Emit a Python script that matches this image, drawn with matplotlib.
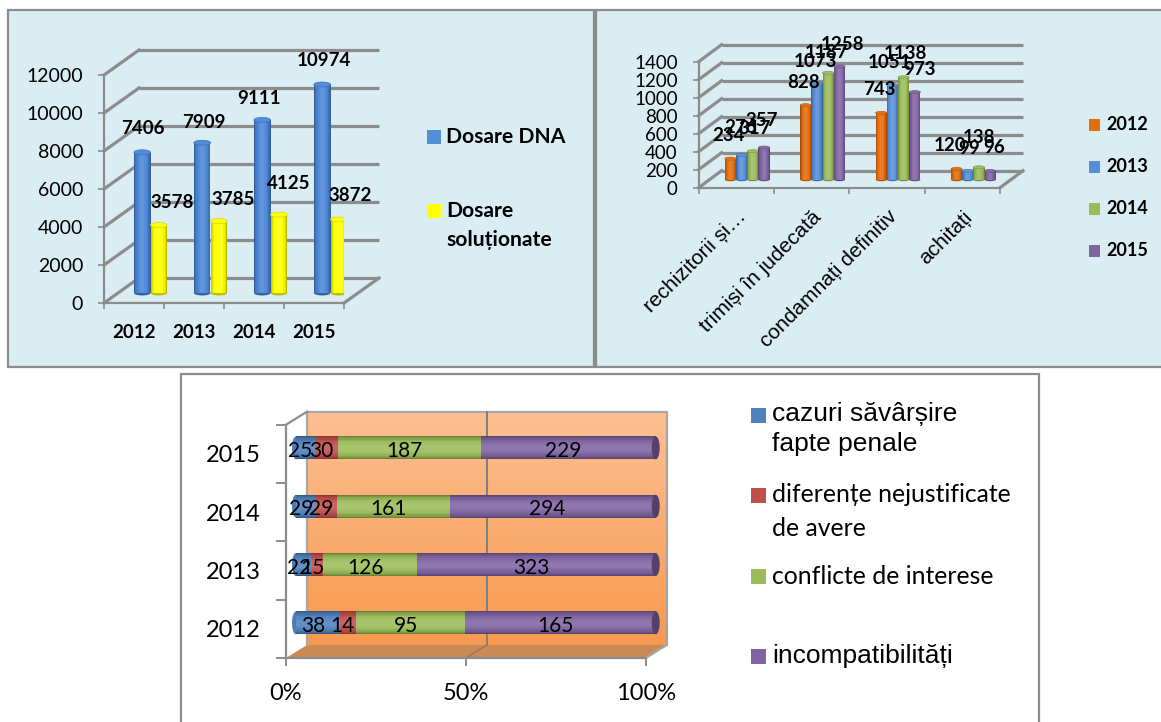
import numpy as np
import matplotlib
matplotlib.use('Agg')
import matplotlib.pyplot as plt
from matplotlib.patches import Rectangle, Ellipse, Polygon
from matplotlib.colors import to_rgb

W, H = 1161, 722

# chart 1
years = ['2012', '2013', '2014', '2015']
dosare_dna = [7406, 7909, 9111, 10974]
dosare_sol = [3578, 3785, 4125, 3872]

# chart 2
categories = ['rechizitorii și…', 'trimiși în judecată', 'condamnați definitiv', 'achitați']
inculpati_2012 = [234, 828, 743, 120]
inculpati_2013 = [276, 1073, 1051, 99]
inculpati_2014 = [317, 1187, 1138, 138]
inculpati_2015 = [357, 1258, 973, 96]

# chart 3, rows go 2012 -> 2015
cazuri = [38, 22, 29, 25]
diferente = [14, 15, 29, 30]
conflicte = [95, 126, 161, 187]
incompat = [165, 323, 294, 229]

# hand placed label offsets in pixels (the original labels were dragged around)
off_dna = [(1, 24), (2, 20), (-3, 21), (2, 24)]
off_sol = [(13, 23), (14, 22), (10, 31), (11, 24)]
off_right = [[(-2, 23), (-2, 23), (-2, 23), (-6, 23)],
             [(-1, 27), (-2, 22), (-3, 23), (1, 22)],
             [(2, 23), (-2, 20), (2, 24), (0, 30)],
             [(-2, 27), (3, 22), (5, 23), (4, 24)]]

GREY = '#8c8c8c'
PANEL = '#daedf3'
BODY = 'Lato'
ARIAL = 'Liberation Sans'

# cylinder look: stacked narrower bars, dark at the rim, light in the middle
SHADES = [(1.0, -0.30), (0.92, -0.20), (0.82, -0.12), (0.70, -0.05),
          (0.56, 0.02), (0.42, 0.07), (0.26, 0.12)]

fig = plt.figure(figsize=(W / 100, H / 100), dpi=100, facecolor='white')


def box(x0, y0, x1, y1, face):
    fig.add_artist(Rectangle((x0 / W, 1 - y1 / H), (x1 - x0) / W, (y1 - y0) / H,
                             transform=fig.transFigure, fc=face, ec=GREY, lw=1.6, zorder=-1))


def make_axes(x0, x1, ytop, ybot):
    ax = fig.add_axes([x0 / W, 1 - ybot / H, (x1 - x0) / W, (ybot - ytop) / H])
    ax.patch.set_alpha(0)
    for s in ['top', 'right']:
        ax.spines[s].set_visible(False)
    for s in ['left', 'bottom']:
        ax.spines[s].set_color(GREY)
        ax.spines[s].set_linewidth(1.6)
    return ax


def mix(c, amount):
    # amount > 0 towards white, < 0 towards black
    c = np.array(to_rgb(c))
    if amount > 0:
        return tuple(c + (1 - c) * amount)
    return tuple(c * (1 + amount))


def vcyl(ax, x, v, base, w, color, cap):
    ax.add_patch(Ellipse((x, base), w, cap, fc=mix(color, -0.25), ec='none', zorder=3))
    for frac, a in SHADES:
        ax.bar(x, v, w * frac, bottom=base, color=mix(color, a), zorder=3)
    ax.add_patch(Ellipse((x, base + v), w, cap, fc=mix(color, 0.05), ec=mix(color, -0.15),
                         lw=0.5, zorder=3))


def legend_item(x, y, size, color, lines, **kw):
    fig.add_artist(Rectangle((x / W, 1 - (y + size / 2) / H), size / W, size / H,
                             transform=fig.transFigure, fc=color, ec='none'))
    for tx, ty, s in lines:
        fig.text(tx / W, 1 - ty / H, s, va='center', ha='left', color='black', **kw)


def walls(ax, xmin, xmax, ticks, dx, dy):
    for v in ticks:
        ax.plot([xmin + dx, xmax + dx], [v + dy, v + dy], color=GREY, lw=2.3,
                clip_on=False, zorder=1, solid_capstyle='butt')
        ax.plot([xmin, xmin + dx], [v, v + dy], color=GREY, lw=2.3, clip_on=False, zorder=1)
    ax.plot([xmax, xmax + dx], [0, dy], color=GREY, lw=2.3, clip_on=False, zorder=1)


box(8, 10, 594, 367, PANEL)
box(596, 10, 1175, 367, PANEL)
box(181, 374, 1039, 740, 'white')

# ---- chart 1: dosare
ax1 = make_axes(104, 344, 75, 303)
x1 = np.arange(4)
ax1.set_xlim(-0.5, 3.5)
ax1.set_ylim(0, 12000)
px_x = 60.0
px_y = 228 / 12000
yt1 = np.arange(0, 12001, 2000)
walls(ax1, -0.5, 3.5, yt1, 35 / px_x, 25 / px_y)
bw = 16.6 / px_x
sx = 16.5 / px_x
sy = 10 / px_y
for i in range(4):
    vcyl(ax1, x1[i] + sx - bw / 2, dosare_dna[i], sy, bw, '#4a86d6', 5 / px_y)
    vcyl(ax1, x1[i] + sx + bw / 2, dosare_sol[i], sy, bw, '#ffff00', 5 / px_y)
    ax1.annotate(str(dosare_dna[i]), (x1[i] + sx - bw / 2, dosare_dna[i] + sy), xytext=off_dna[i],
                 textcoords='offset pixels', ha='center', va='center', fontsize=13.5,
                 fontweight='bold', family=BODY, zorder=6, annotation_clip=False)
    ax1.annotate(str(dosare_sol[i]), (x1[i] + sx + bw / 2, dosare_sol[i] + sy), xytext=off_sol[i],
                 textcoords='offset pixels', ha='center', va='center', fontsize=13.5,
                 fontweight='bold', family=BODY, zorder=6, annotation_clip=False)
ax1.set_yticks(yt1)
ax1.tick_params(axis='y', length=4, width=1.2, color=GREY, pad=11, labelsize=14)
ax1.set_xticks(x1, years)
ax1.set_xticks(np.arange(-0.5, 4), minor=True)
ax1.tick_params(axis='x', which='major', length=0, pad=15, labelsize=13.5)
ax1.tick_params(axis='x', which='minor', length=4, width=1.2, color=GREY)
for t in ax1.get_yticklabels():
    t.set_family(BODY)
for t in ax1.get_xticklabels():
    t.set_family(BODY)
    t.set_fontweight('bold')

legend_item(427, 137, 14, '#558ed5', [(446, 137, 'Dosare DNA')],
            fontsize=15.2, fontweight='bold', family=BODY)
legend_item(427, 211, 14, '#ffff00', [(446, 211, 'Dosare'), (446, 240, 'soluționate')],
            fontsize=15.2, fontweight='bold', family=BODY)

# ---- chart 2: inculpati
ax2 = make_axes(698.6, 1000, 61.7, 187.7)
ax2.set_xlim(-0.5, 3.5)
ax2.set_ylim(0, 1400)
px_x = (1000 - 698.6) / 4
px_y = 126 / 1400
yt2 = np.arange(0, 1401, 200)
walls(ax2, -0.5, 3.5, yt2, 23 / px_x, 17 / px_y)
series2 = [inculpati_2012, inculpati_2013, inculpati_2014, inculpati_2015]
colors2 = ['#e46c0a', '#558ed5', '#9bbb59', '#8064a2']
x2 = np.arange(4)
bw = 11.2 / px_x
sx = 11 / px_x
sy = 8 / px_y
for s, vals in enumerate(series2):
    for i in range(4):
        xb = x2[i] + sx + (s - 1.5) * bw
        vcyl(ax2, xb, vals[i], sy, bw, colors2[s], 3 / px_y)
        ax2.annotate(str(vals[i]), (xb, vals[i] + sy), xytext=off_right[s][i],
                     textcoords='offset pixels', ha='center', va='center', fontsize=13.5,
                     fontweight='bold', family=BODY, zorder=6, annotation_clip=False)
ax2.set_yticks(yt2)
ax2.tick_params(axis='y', length=4, width=1.2, color=GREY, pad=11, labelsize=13.5)
ax2.set_xticks(np.arange(-0.5, 4), minor=True)
ax2.tick_params(axis='x', which='minor', length=4, width=1.2, color=GREY)
ax2.set_xticks(x2, categories)
ax2.tick_params(axis='x', which='major', length=0, pad=14)
for t in ax2.get_yticklabels():
    t.set_family(BODY)
for t in ax2.get_xticklabels():
    t.set_family(ARIAL)
    t.set_fontsize(15)
    t.set_rotation(45)
    t.set_ha('right')
    t.set_rotation_mode('anchor')

for name, ty, c in zip(years, [125, 167, 209, 251], colors2):
    legend_item(1088.5, ty, 11.5, c, [(1106, ty, name)], fontsize=13, fontweight='bold', family=BODY)

# ---- chart 3: integritate
ax3 = make_axes(286, 645.7, 424.7, 658)
ax3.set_xlim(0, 100)
ax3.set_ylim(-0.5, 3.5)
px_x = 359.7 / 100
px_y = 233.3 / 4
dx = 21 / px_x
dy = 13 / px_y
grad = np.linspace(0, 1, 64).reshape(-1, 1, 1)
top_c = np.array(to_rgb('#fdbf92'))
bot_c = np.array(to_rgb('#f79a50'))
wall_img = top_c * (1 - grad) + bot_c * grad
ax3.imshow(wall_img, extent=[dx, 100 + dx, -0.5 + dy, 3.5 + dy], aspect='auto', origin='upper',
           zorder=0, clip_on=False)
ax3.set_xlim(0, 100)
ax3.set_ylim(-0.5, 3.5)
ax3.add_patch(Polygon([[0, -0.5], [100, -0.5], [100 + dx, -0.5 + dy], [dx, -0.5 + dy]],
                      fc='#c98a55', ec='none', zorder=0, clip_on=False))
edge = '#a6a6a6'
ax3.plot([dx, dx, 100 + dx, 100 + dx], [-0.5 + dy, 3.5 + dy, 3.5 + dy, -0.5 + dy], color=edge,
         lw=1.6, zorder=1, clip_on=False)
ax3.plot([0, dx], [3.5, 3.5 + dy], color=GREY, lw=1.6, zorder=1, clip_on=False)
ax3.plot([100, 100 + dx], [-0.5, -0.5 + dy], color=edge, lw=1.6, zorder=1, clip_on=False)
ax3.plot([50 + dx, 50 + dx], [-0.5 + dy, 3.5 + dy], color='#7f7f7f', lw=1.4, zorder=1, clip_on=False)
ax3.plot([50, 50 + dx], [-0.5, -0.5 + dy], color='#9a7a60', lw=1.2, zorder=1, clip_on=False)

series3 = [cazuri, diferente, conflicte, incompat]
colors3 = ['#4f81bd', '#c0504d', '#9bbb59', '#8064a2']
y3 = np.arange(4)
totals = np.sum(series3, axis=0)
sx = 10 / px_x
sy = 6 / px_y
bh = 23 / px_y
left = np.zeros(4) + sx
for c, vals in zip(colors3, series3):
    pct = np.array(vals) / totals * 100
    for i in range(4):
        if c == colors3[0]:
            ax3.add_patch(Ellipse((left[i], y3[i] + sy), 8 / px_x, bh, fc=mix(c, -0.05), ec='none',
                                  zorder=3, clip_on=False))
        for frac, a in SHADES:
            ax3.barh(y3[i] + sy, pct[i], bh * frac, left=left[i], color=mix(c, a), zorder=3,
                     clip_on=False)
        ax3.annotate(str(vals[i]), (left[i] + pct[i] / 2, y3[i] + sy), xytext=(-5, -3),
                     textcoords='offset pixels', ha='center', va='center', fontsize=15,
                     family=BODY, zorder=6, annotation_clip=False)
        if c == colors3[-1]:
            ax3.add_patch(Ellipse((left[i] + pct[i], y3[i] + sy), 8 / px_x, bh, fc=mix(c, -0.35),
                                  ec='none', zorder=4, clip_on=False))
    left = left + pct

ax3.set_yticks(y3, years)
ax3.set_yticks(np.arange(-0.5, 4), minor=True)
ax3.tick_params(axis='y', which='major', length=0, pad=18, labelsize=17)
ax3.tick_params(axis='y', which='minor', length=7, width=1.4, color=GREY)
ax3.set_xticks([0, 50, 100], ['0%', '50%', '100%'])
ax3.tick_params(axis='x', length=6, width=1.4, color=GREY, pad=12, labelsize=17)
for t in ax3.get_yticklabels() + ax3.get_xticklabels():
    t.set_family(BODY)

legend_item(751, 415.5, 15, '#4f81bd', [(772, 414, 'cazuri săvârșire'), (772, 444, 'fapte penale')],
            fontsize=19, family=ARIAL)
legend_item(751, 495.5, 15, '#c0504d', [(772, 495, 'diferențe nejustificate'), (772, 528, 'de avere')],
            fontsize=17.8, family=BODY)
legend_item(751, 576.5, 15, '#9bbb59', [(772, 576, 'conflicte de interese')],
            fontsize=17.8, family=BODY)
legend_item(751, 656.5, 15, '#8064a2', [(772, 656, 'incompatibilități')],
            fontsize=19, family=ARIAL)

fig.savefig('out.png', dpi=100)
